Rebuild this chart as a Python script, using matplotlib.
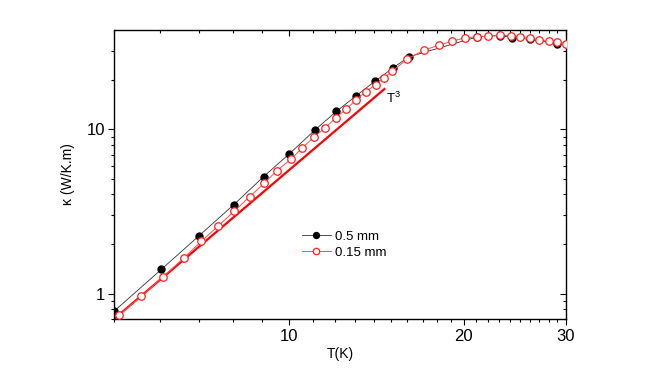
import matplotlib
matplotlib.use('Agg')
import matplotlib.pyplot as plt
from matplotlib.ticker import FixedLocator, NullFormatter, FixedFormatter

plt.rcParams['font.family'] = ['Liberation Sans', 'DejaVu Sans']
plt.rcParams['mathtext.fontset'] = 'custom'
plt.rcParams['mathtext.rm'] = 'Liberation Sans'

# 0.5 mm sample (filled circles)
T_thick = [5.0, 6.03, 7.01, 8.04, 9.05, 10.02, 11.09, 12.07, 13.05, 14.06, 15.1, 16.1,
           21.1, 23.1, 24.2, 26.0, 29.0]
k_thick = [0.78, 1.40, 2.25, 3.47, 5.14, 7.07, 9.86, 12.8, 15.9, 19.5, 23.5, 27.5,
           36.3, 37.0, 36.0, 35.1, 33.1]

# 0.15 mm sample (open circles)
T_thin = [5.1, 5.57, 6.07, 6.59, 7.07, 7.56, 8.05, 8.56, 9.07, 9.54, 10.08, 10.54,
          11.03, 11.56, 12.05, 12.56, 13.05, 13.57, 14.1, 14.6, 15.05,
          16.0, 17.1, 18.1, 19.1, 20.1, 21.1, 22.0, 23.1, 24.1, 25.0, 26.0, 27.0,
          28.0, 29.0, 30.0]
k_thin = [0.74, 0.96, 1.26, 1.64, 2.08, 2.58, 3.16, 3.88, 4.69, 5.59, 6.56, 7.66,
          8.89, 10.2, 11.7, 13.3, 15.0, 16.9, 18.6, 20.5, 22.4,
          26.7, 30.2, 32.3, 34.2, 35.9, 36.3, 36.7, 37.3, 36.8, 36.4, 35.9, 34.7,
          34.3, 33.9, 33.1]

# T^3 guide line (end points)
fit_T = [5.0, 14.6]
fit_k = [0.70, 17.5]

x_major = [10, 20, 30]
x_minor = [5, 6, 7, 8, 9] + list(range(11, 20)) + list(range(21, 30))
y_major = [1, 10]
y_minor = [0.7, 0.8, 0.9, 2, 3, 4, 5, 6, 7, 8, 9, 20, 30]

fig = plt.figure(figsize=(6.64, 3.74), dpi=100)
ax = fig.add_axes([114 / 664, 1 - 319 / 374, 452 / 664, 289 / 374])

ax.plot(fit_T, fit_k, color='#ff0000', lw=1.6, zorder=2)
ax.plot(T_thick, k_thick, color='#333333', lw=0.6, marker='o', ms=5.0,
        mfc='black', mec='black', label='0.5 mm', zorder=3)
ax.plot(T_thin, k_thin, color='#ff5050', lw=0.7, marker='o', ms=5.4,
        mfc='white', mec='#ff2020', mew=0.9, label='0.15 mm', zorder=4)

ax.set_xscale('log')
ax.set_yscale('log')
ax.set_xlim(5, 30)
ax.set_ylim(0.7, 40)

ax.xaxis.set_major_locator(FixedLocator(x_major))
ax.xaxis.set_major_formatter(FixedFormatter([str(v) for v in x_major]))
ax.xaxis.set_minor_locator(FixedLocator(x_minor))
ax.xaxis.set_minor_formatter(NullFormatter())
ax.yaxis.set_major_locator(FixedLocator(y_major))
ax.yaxis.set_major_formatter(FixedFormatter([str(v) for v in y_major]))
ax.yaxis.set_minor_locator(FixedLocator(y_minor))
ax.yaxis.set_minor_formatter(NullFormatter())

for s in ax.spines.values():
    s.set_linewidth(1.0)

ax.tick_params(which='both', labelsize=12, width=0.8)
ax.tick_params(which='major', length=4.5)
ax.tick_params(which='minor', length=2.5)
ax.tick_params(axis='x', which='both', direction='out', top=True, pad=3)
ax.tick_params(axis='y', which='both', direction='out', right=True, pad=2)
# mirrored ticks on top and right point inward
for t in ax.xaxis.get_major_ticks() + ax.xaxis.get_minor_ticks():
    t.tick2line.set_marker(3)
for t in ax.yaxis.get_major_ticks() + ax.yaxis.get_minor_ticks():
    t.tick2line.set_marker(0)

ax.set_xlabel('T(K)', fontsize=10, labelpad=2)
ax.set_ylabel('\u03ba (W/K.m)', fontsize=10, labelpad=8)

ax.text(14.7, 15.3, r'T$^{3}$', fontsize=9.5, ha='left', va='center')

ax.legend(loc='center left', bbox_to_anchor=(0.415, 0.257), frameon=False,
          fontsize=9.5, markerscale=0.85, handlelength=2.2, handletextpad=0.3,
          labelspacing=0.25, borderpad=0, borderaxespad=0)

fig.savefig('out.png', dpi=100)
